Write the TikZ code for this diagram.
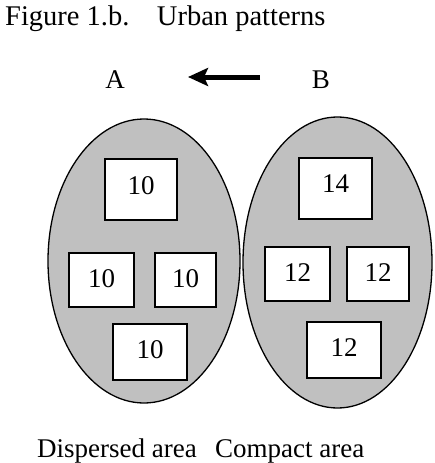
\documentclass[tikz,border=0pt]{standalone}
\usepackage{fontspec}
\setmainfont{Liberation Serif}
\usetikzlibrary{shapes.geometric,arrows.meta}
\begin{document}
\begin{tikzpicture}[x=1pt,y=-1pt,
  every node/.style={font=\fontsize{27}{32}\selectfont},
  area/.style={ellipse, draw=black, line width=1.3pt, fill={rgb,255:red,192;green,192;blue,192}, inner sep=0pt},
  blk/.style={rectangle, draw=black, line width=2pt, fill=white, inner sep=0pt},
  lbl/.style={inner sep=0pt}]
\useasboundingbox (0,0) rectangle (434,463);
\node[lbl, anchor=base west, font=\fontsize{28.5}{34}\selectfont] (title) at (5,25) {Figure 1.b.\hspace{27.5pt}Urban patterns};
\node[lbl, anchor=base] (A) at (115,88) {A};
\node[lbl, anchor=base] (B) at (321,88) {B};
\coordinate (arrs) at (260,77);
\coordinate (arre) at (188,77);
\draw[line width=5pt, -{Stealth[length=20pt,width=18pt,inset=4pt]}] (arrs) -- (arre);
\node[area, minimum width=192pt, minimum height=284pt] (left) at (144,261) {};
\node[area, minimum width=189pt, minimum height=291pt] (right) at (337.5,262.5) {};
\node[blk, minimum width=72pt, minimum height=61pt, text depth=8pt] (L1) at (141,189.5) {10};
\node[blk, minimum width=65pt, minimum height=54pt, text depth=3pt] (L2) at (101.5,280) {10};
\node[blk, minimum width=61pt, minimum height=54pt, text depth=3pt] (L3) at (185.5,280) {10};
\node[blk, minimum width=74pt, minimum height=56pt, text depth=5pt] (L4) at (150,352) {10};
\node[blk, minimum width=73pt, minimum height=61pt, text depth=10pt] (R1) at (335.5,188.5) {14};
\node[blk, minimum width=65pt, minimum height=54pt, text depth=3pt] (R2) at (297.5,274) {12};
\node[blk, minimum width=62pt, minimum height=54pt, text depth=3pt] (R3) at (378,274) {12};
\node[blk, minimum width=74pt, minimum height=56pt, text depth=5pt] (R4) at (344,350) {12};
\node[lbl, anchor=base west] (disp) at (37,457) {Dispersed area};
\node[lbl, anchor=base west] (comp) at (215,457) {Compact area};
\end{tikzpicture}
\end{document}
